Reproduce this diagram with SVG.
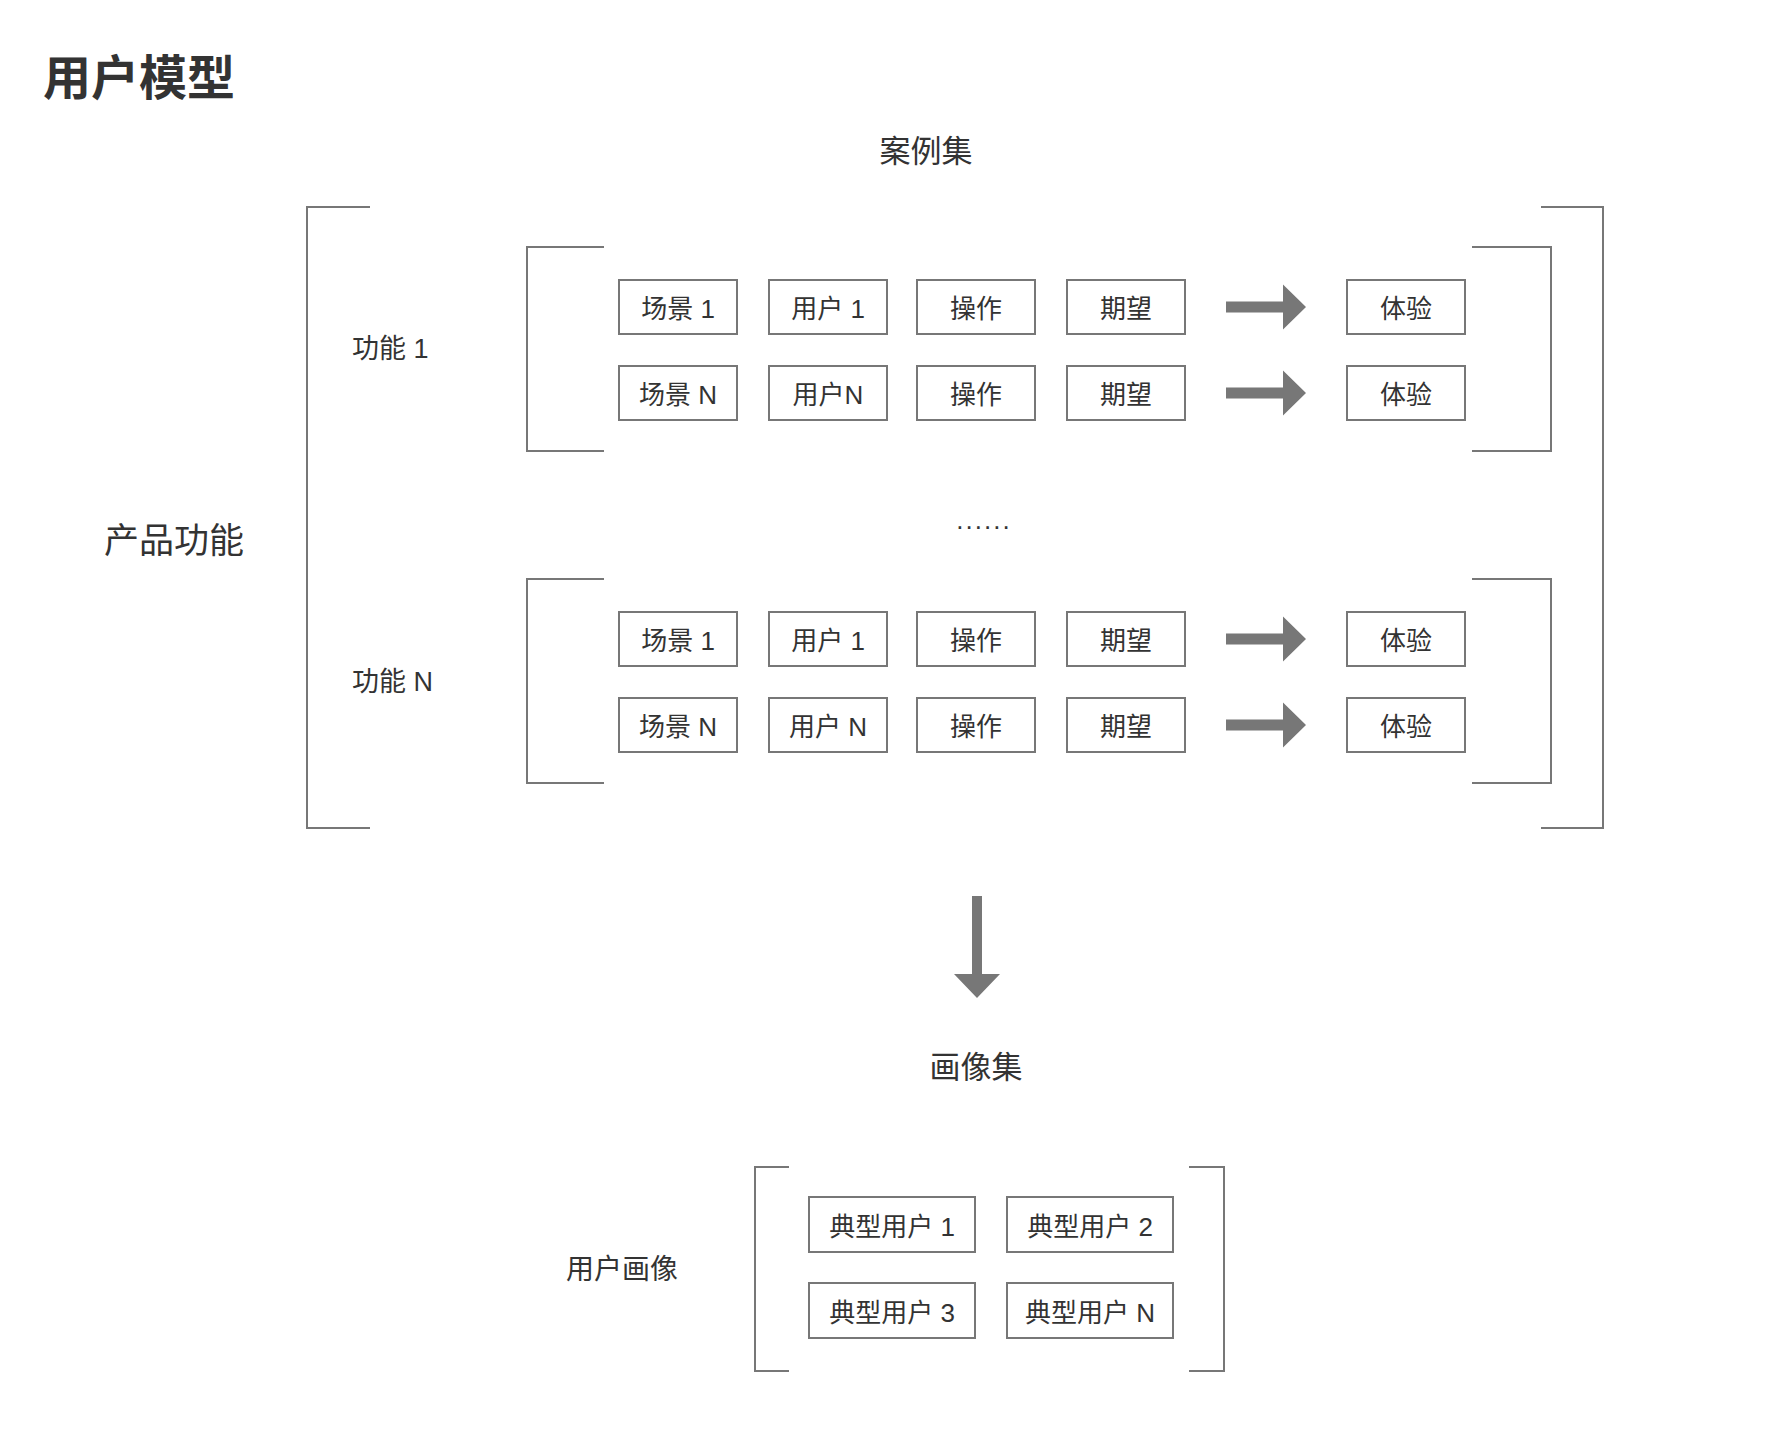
<svg xmlns="http://www.w3.org/2000/svg" width="1784" height="1450" viewBox="0 0 1784 1450">
<style>
text{font-family:"Liberation Sans","Noto Sans CJK SC",sans-serif;fill:#333;}
.t{dominant-baseline:central;text-anchor:middle;}
.box{fill:#fff;stroke:#777;stroke-width:2;}
.br{fill:none;stroke:#777;stroke-width:2;}
.bl{font-size:26px;}
.arr{fill:#777;}
</style>
<rect width="1784" height="1450" fill="#fff"/>
<text x="43" y="78" style="font-size:48px;font-weight:700;dominant-baseline:central">用户模型</text>
<text class="t" x="926" y="151" style="font-size:31px">案例集</text>
<text class="t" x="174" y="540" style="font-size:35px">产品功能</text>
<text x="352" y="349" style="font-size:27px;dominant-baseline:central">功能 1</text>
<text x="352" y="682" style="font-size:27px;dominant-baseline:central">功能 N</text>
<text class="t" x="984" y="520" style="font-size:26px;letter-spacing:2px">......</text>
<text class="t" x="976" y="1067" style="font-size:31px">画像集</text>
<text class="t" x="622" y="1269" style="font-size:28px">用户画像</text>
<g id="brackets">
<path class="br" d="M370,207H307V828H370"/>
<path class="br" d="M1541,207H1603V828H1541"/>
<path class="br" d="M604,247H527V451H604"/>
<path class="br" d="M1472,247H1551V451H1472"/>
<path class="br" d="M604,579H527V783H604"/>
<path class="br" d="M1472,579H1551V783H1472"/>
<path class="br" d="M789,1167H755V1371H789"/>
<path class="br" d="M1189,1167H1224V1371H1189"/>
</g>
<g id="n-r1">
<rect class="box" x="619" y="280" width="118" height="54"/><text class="t bl" x="678" y="309">场景 1</text>
<rect class="box" x="769" y="280" width="118" height="54"/><text class="t bl" x="828" y="309">用户 1</text>
<rect class="box" x="917" y="280" width="118" height="54"/><text class="t bl" x="976" y="309">操作</text>
<rect class="box" x="1067" y="280" width="118" height="54"/><text class="t bl" x="1126" y="309">期望</text>
<rect class="box" x="1347" y="280" width="118" height="54"/><text class="t bl" x="1406" y="309">体验</text>
</g>
<g id="n-r2">
<rect class="box" x="619" y="366" width="118" height="54"/><text class="t bl" x="678" y="395">场景 N</text>
<rect class="box" x="769" y="366" width="118" height="54"/><text class="t bl" x="828" y="395">用户N</text>
<rect class="box" x="917" y="366" width="118" height="54"/><text class="t bl" x="976" y="395">操作</text>
<rect class="box" x="1067" y="366" width="118" height="54"/><text class="t bl" x="1126" y="395">期望</text>
<rect class="box" x="1347" y="366" width="118" height="54"/><text class="t bl" x="1406" y="395">体验</text>
</g>
<g id="n-r3">
<rect class="box" x="619" y="612" width="118" height="54"/><text class="t bl" x="678" y="641">场景 1</text>
<rect class="box" x="769" y="612" width="118" height="54"/><text class="t bl" x="828" y="641">用户 1</text>
<rect class="box" x="917" y="612" width="118" height="54"/><text class="t bl" x="976" y="641">操作</text>
<rect class="box" x="1067" y="612" width="118" height="54"/><text class="t bl" x="1126" y="641">期望</text>
<rect class="box" x="1347" y="612" width="118" height="54"/><text class="t bl" x="1406" y="641">体验</text>
</g>
<g id="n-r4">
<rect class="box" x="619" y="698" width="118" height="54"/><text class="t bl" x="678" y="727">场景 N</text>
<rect class="box" x="769" y="698" width="118" height="54"/><text class="t bl" x="828" y="727">用户 N</text>
<rect class="box" x="917" y="698" width="118" height="54"/><text class="t bl" x="976" y="727">操作</text>
<rect class="box" x="1067" y="698" width="118" height="54"/><text class="t bl" x="1126" y="727">期望</text>
<rect class="box" x="1347" y="698" width="118" height="54"/><text class="t bl" x="1406" y="727">体验</text>
</g>
<g id="n-personas">
<rect class="box" x="809" y="1197" width="166" height="55"/><text class="t bl" x="892" y="1227">典型用户 1</text>
<rect class="box" x="1007" y="1197" width="166" height="55"/><text class="t bl" x="1090" y="1227">典型用户 2</text>
<rect class="box" x="809" y="1283" width="166" height="55"/><text class="t bl" x="892" y="1313">典型用户 3</text>
<rect class="box" x="1007" y="1283" width="166" height="55"/><text class="t bl" x="1090" y="1313">典型用户 N</text>
</g>
<g id="connectors">
<polygon class="arr" points="1226,301.5 1283,301.5 1283,284.5 1306,307 1283,329.5 1283,312.5 1226,312.5"/>
<polygon class="arr" points="1226,387.5 1283,387.5 1283,370.5 1306,393 1283,415.5 1283,398.5 1226,398.5"/>
<polygon class="arr" points="1226,633.5 1283,633.5 1283,616.5 1306,639 1283,661.5 1283,644.5 1226,644.5"/>
<polygon class="arr" points="1226,719.5 1283,719.5 1283,702.5 1306,725 1283,747.5 1283,730.5 1226,730.5"/>
<polygon class="arr" points="972,896 982,896 982,974 1000,974 977,998 954,974 972,974"/>
</g>
</svg>
